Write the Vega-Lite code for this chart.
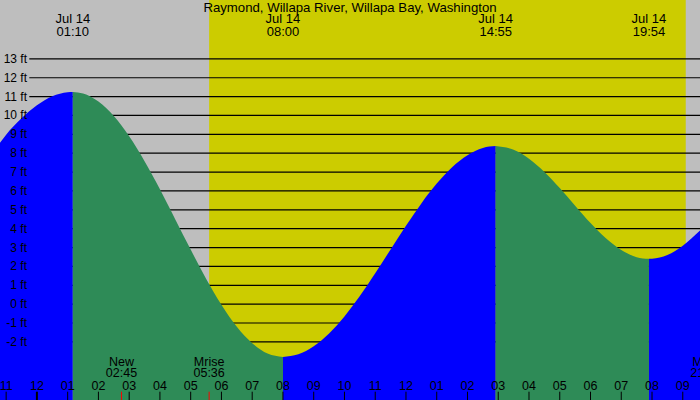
{
  "$schema": "https://vega.github.io/schema/vega-lite/v6.json",
  "width": 700,
  "height": 400,
  "padding": 0,
  "autosize": {"type": "none"},
  "background": "#BEBEBE",
  "config": {
    "view": {"stroke": null},
    "axis": {"disable": true},
    "text": {"font": "Liberation Sans", "fontSize": 12, "color": "#000000"}
  },
  "datasets": {
    "light": [
      {"start": -1.2, "end": 5.6, "phase": "night"},
      {"start": 5.6, "end": 21.1, "phase": "day"},
      {"start": 21.1, "end": 21.56, "phase": "night"}
    ],
    "levels": [
      {"ft": -2, "label": "-2 ft"}, {"ft": -1, "label": "-1 ft"}, {"ft": 0, "label": "0 ft"},
      {"ft": 1, "label": "1 ft"}, {"ft": 2, "label": "2 ft"}, {"ft": 3, "label": "3 ft"},
      {"ft": 4, "label": "4 ft"}, {"ft": 5, "label": "5 ft"}, {"ft": 6, "label": "6 ft"},
      {"ft": 7, "label": "7 ft"}, {"ft": 8, "label": "8 ft"}, {"ft": 9, "label": "9 ft"},
      {"ft": 10, "label": "10 ft"}, {"ft": 11, "label": "11 ft"}, {"ft": 12, "label": "12 ft"},
      {"ft": 13, "label": "13 ft"}
    ],
    "tide": [
      {"t": -1.2, "level": 8.55, "seg": "a", "dir": "rising"},
      {"t": -1.0, "level": 8.98, "seg": "a", "dir": "rising"},
      {"t": -0.5, "level": 9.85, "seg": "a", "dir": "rising"},
      {"t": 0.0, "level": 10.54, "seg": "a", "dir": "rising"},
      {"t": 0.5, "level": 11.02, "seg": "a", "dir": "rising"},
      {"t": 1.0, "level": 11.235, "seg": "a", "dir": "rising"},
      {"t": 1.167, "level": 11.25, "seg": "a", "dir": "rising"},
      {"t": 1.167, "level": 11.25, "seg": "b", "dir": "falling"},
      {"t": 1.5, "level": 11.17, "seg": "b", "dir": "falling"},
      {"t": 2.0, "level": 10.74, "seg": "b", "dir": "falling"},
      {"t": 2.5, "level": 9.97, "seg": "b", "dir": "falling"},
      {"t": 3.0, "level": 8.9, "seg": "b", "dir": "falling"},
      {"t": 3.5, "level": 7.58, "seg": "b", "dir": "falling"},
      {"t": 4.0, "level": 6.09, "seg": "b", "dir": "falling"},
      {"t": 4.5, "level": 4.49, "seg": "b", "dir": "falling"},
      {"t": 5.0, "level": 2.89, "seg": "b", "dir": "falling"},
      {"t": 5.5, "level": 1.35, "seg": "b", "dir": "falling"},
      {"t": 6.0, "level": -0.03, "seg": "b", "dir": "falling"},
      {"t": 6.5, "level": -1.2, "seg": "b", "dir": "falling"},
      {"t": 7.0, "level": -2.07, "seg": "b", "dir": "falling"},
      {"t": 7.5, "level": -2.62, "seg": "b", "dir": "falling"},
      {"t": 8.0, "level": -2.8, "seg": "b", "dir": "falling"},
      {"t": 8.0, "level": -2.8, "seg": "c", "dir": "rising"},
      {"t": 8.5, "level": -2.66, "seg": "c", "dir": "rising"},
      {"t": 9.0, "level": -2.23, "seg": "c", "dir": "rising"},
      {"t": 9.5, "level": -1.55, "seg": "c", "dir": "rising"},
      {"t": 10.0, "level": -0.65, "seg": "c", "dir": "rising"},
      {"t": 10.5, "level": 0.43, "seg": "c", "dir": "rising"},
      {"t": 11.0, "level": 1.64, "seg": "c", "dir": "rising"},
      {"t": 11.5, "level": 2.9, "seg": "c", "dir": "rising"},
      {"t": 12.0, "level": 4.15, "seg": "c", "dir": "rising"},
      {"t": 12.5, "level": 5.34, "seg": "c", "dir": "rising"},
      {"t": 13.0, "level": 6.39, "seg": "c", "dir": "rising"},
      {"t": 13.5, "level": 7.26, "seg": "c", "dir": "rising"},
      {"t": 14.0, "level": 7.89, "seg": "c", "dir": "rising"},
      {"t": 14.5, "level": 8.28, "seg": "c", "dir": "rising"},
      {"t": 14.917, "level": 8.38, "seg": "c", "dir": "rising"},
      {"t": 14.917, "level": 8.38, "seg": "d", "dir": "falling"},
      {"t": 15.5, "level": 8.18, "seg": "d", "dir": "falling"},
      {"t": 16.0, "level": 7.71, "seg": "d", "dir": "falling"},
      {"t": 16.5, "level": 7.01, "seg": "d", "dir": "falling"},
      {"t": 17.0, "level": 6.15, "seg": "d", "dir": "falling"},
      {"t": 17.5, "level": 5.22, "seg": "d", "dir": "falling"},
      {"t": 18.0, "level": 4.3, "seg": "d", "dir": "falling"},
      {"t": 18.5, "level": 3.49, "seg": "d", "dir": "falling"},
      {"t": 19.0, "level": 2.87, "seg": "d", "dir": "falling"},
      {"t": 19.5, "level": 2.49, "seg": "d", "dir": "falling"},
      {"t": 19.9, "level": 2.4, "seg": "d", "dir": "falling"},
      {"t": 19.9, "level": 2.4, "seg": "e", "dir": "rising"},
      {"t": 20.0, "level": 2.41, "seg": "e", "dir": "rising"},
      {"t": 20.5, "level": 2.6, "seg": "e", "dir": "rising"},
      {"t": 21.0, "level": 3.1, "seg": "e", "dir": "rising"},
      {"t": 21.56, "level": 3.9, "seg": "e", "dir": "rising"}
    ],
    "extremes": [
      {"t": 1.167, "date": "Jul 14", "time": "01:10"},
      {"t": 8.0, "date": "Jul 14", "time": "08:00"},
      {"t": 14.917, "date": "Jul 14", "time": "14:55"},
      {"t": 19.9, "date": "Jul 14", "time": "19:54"}
    ],
    "hours": [
      {"t": -1, "label": "11", "w": 1}, {"t": 0, "label": "12", "w": 2},
      {"t": 1, "label": "01", "w": 1}, {"t": 2, "label": "02", "w": 1},
      {"t": 3, "label": "03", "w": 1}, {"t": 4, "label": "04", "w": 1},
      {"t": 5, "label": "05", "w": 1}, {"t": 6, "label": "06", "w": 1},
      {"t": 7, "label": "07", "w": 1}, {"t": 8, "label": "08", "w": 1},
      {"t": 9, "label": "09", "w": 1}, {"t": 10, "label": "10", "w": 1},
      {"t": 11, "label": "11", "w": 1}, {"t": 12, "label": "12", "w": 1},
      {"t": 13, "label": "01", "w": 1}, {"t": 14, "label": "02", "w": 1},
      {"t": 15, "label": "03", "w": 1}, {"t": 16, "label": "04", "w": 1},
      {"t": 17, "label": "05", "w": 1}, {"t": 18, "label": "06", "w": 1},
      {"t": 19, "label": "07", "w": 1}, {"t": 20, "label": "08", "w": 1},
      {"t": 21, "label": "09", "w": 1}
    ],
    "moon": [
      {"t": 2.75, "event": "New", "time": "02:45"},
      {"t": 5.6, "event": "Mrise", "time": "05:36"},
      {"t": 21.75, "event": "Mset", "time": "21:45"}
    ],
    "place": [
      {"t": 10.18, "name": "Raymond, Willapa River, Willapa Bay, Washington"}
    ]
  },
  "layer": [
    {
      "data": {"name": "light"},
      "mark": {"type": "rect"},
      "encoding": {
        "x": {"field": "start", "type": "quantitative", "scale": {"domain": [-1.2, 21.56], "nice": false, "zero": false}},
        "x2": {"field": "end"},
        "color": {"field": "phase", "type": "nominal", "scale": {"domain": ["night", "day"], "range": ["#BEBEBE", "#CCCC00"]}, "legend": null}
      }
    },
    {
      "data": {"name": "levels"},
      "mark": {"type": "rule", "color": "#000000", "strokeWidth": 1.2},
      "encoding": {
        "y": {"field": "ft", "type": "quantitative", "scale": {"domain": [-5.08, 16.12], "nice": false, "zero": false}},
        "x": {"datum": -0.247, "type": "quantitative"},
        "x2": {"datum": 21.56}
      }
    },
    {
      "data": {"name": "tide"},
      "mark": {"type": "area", "interpolate": "monotone"},
      "encoding": {
        "x": {"field": "t", "type": "quantitative"},
        "y": {"field": "level", "type": "quantitative"},
        "y2": {"datum": -5.08},
        "detail": {"field": "seg"},
        "fill": {"field": "dir", "type": "nominal", "scale": {"domain": ["rising", "falling"], "range": ["#0000FF", "#2E8B57"]}, "legend": null}
      }
    },
    {
      "data": {"name": "levels"},
      "mark": {"type": "text", "align": "right", "baseline": "middle"},
      "encoding": {
        "y": {"field": "ft", "type": "quantitative"},
        "x": {"datum": -0.322, "type": "quantitative"},
        "text": {"field": "label"}
      }
    },
    {
      "data": {"name": "place"},
      "mark": {"type": "text", "align": "center", "baseline": "middle", "fontSize": 13.2},
      "encoding": {
        "x": {"field": "t", "type": "quantitative"},
        "y": {"datum": 15.72, "type": "quantitative"},
        "text": {"field": "name"}
      }
    },
    {
      "data": {"name": "extremes"},
      "mark": {"type": "text", "align": "center", "baseline": "middle", "fontSize": 13},
      "encoding": {
        "x": {"field": "t", "type": "quantitative"},
        "y": {"datum": 15.1, "type": "quantitative"},
        "text": {"field": "date"}
      }
    },
    {
      "data": {"name": "extremes"},
      "mark": {"type": "text", "align": "center", "baseline": "middle", "fontSize": 13},
      "encoding": {
        "x": {"field": "t", "type": "quantitative"},
        "y": {"datum": 14.44, "type": "quantitative"},
        "text": {"field": "time"}
      }
    },
    {
      "data": {"name": "moon"},
      "mark": {"type": "text", "align": "center", "baseline": "middle", "fontSize": 12.5},
      "encoding": {
        "x": {"field": "t", "type": "quantitative"},
        "y": {"datum": -3.05, "type": "quantitative"},
        "text": {"field": "event"}
      }
    },
    {
      "data": {"name": "moon"},
      "mark": {"type": "text", "align": "center", "baseline": "middle", "fontSize": 12.5},
      "encoding": {
        "x": {"field": "t", "type": "quantitative"},
        "y": {"datum": -3.66, "type": "quantitative"},
        "text": {"field": "time"}
      }
    },
    {
      "data": {"name": "moon"},
      "mark": {"type": "rule", "color": "#FF0000", "strokeWidth": 1},
      "encoding": {
        "x": {"field": "t", "type": "quantitative"},
        "y": {"datum": -4.64, "type": "quantitative"},
        "y2": {"datum": -5.08}
      }
    },
    {
      "data": {"name": "hours"},
      "mark": {"type": "text", "align": "center", "baseline": "middle", "fontSize": 12.5},
      "encoding": {
        "x": {"field": "t", "type": "quantitative"},
        "y": {"datum": -4.32, "type": "quantitative"},
        "text": {"field": "label"}
      }
    },
    {
      "data": {"name": "hours"},
      "mark": {"type": "rule", "color": "#000000"},
      "encoding": {
        "x": {"field": "t", "type": "quantitative"},
        "y": {"datum": -4.64, "type": "quantitative"},
        "y2": {"datum": -5.08},
        "strokeWidth": {"field": "w", "type": "quantitative", "scale": null}
      }
    }
  ]
}
